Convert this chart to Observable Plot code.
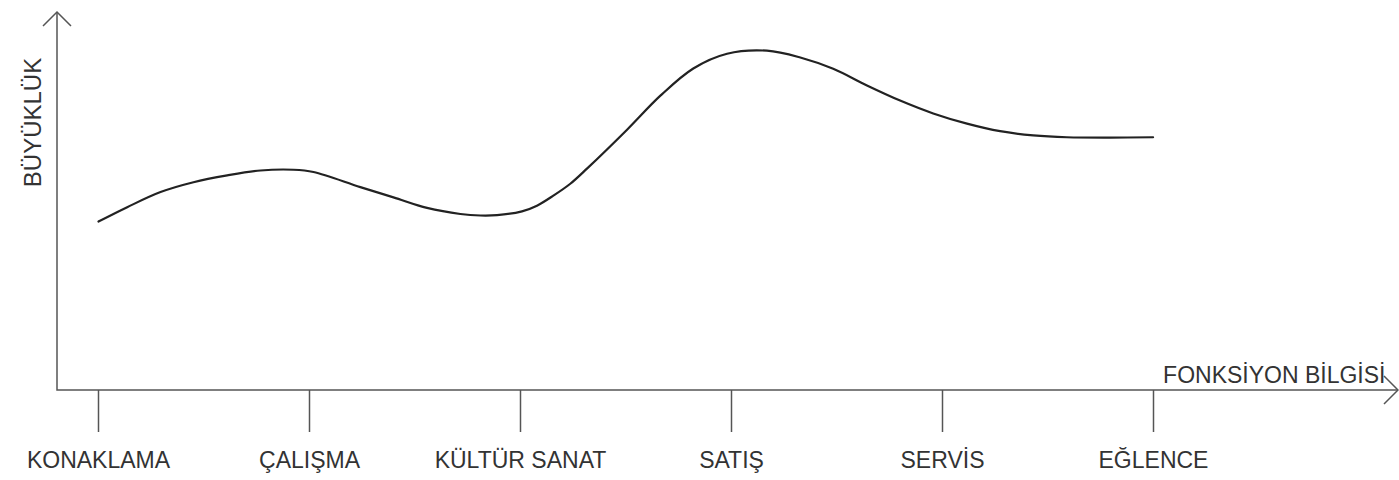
<!DOCTYPE html>
<html>
<head>
<meta charset="utf-8">
<script src="https://cdn.jsdelivr.net/npm/d3@7"></script>
<script src="https://cdn.jsdelivr.net/npm/@observablehq/plot@0.6"></script>
<style>
  html, body { margin: 0; padding: 0; background: #fff; }
</style>
</head>
<body>
<div id="chart"></div>
<script>
// Categories along the "FONKSİYON BİLGİSİ" axis
const categories = ["KONAKLAMA", "ÇALIŞMA", "KÜLTÜR SANAT", "SATIŞ", "SERVİS", "EĞLENCE"];
const tickPositions = [0, 1, 2, 3, 4, 5];

// Curve samples (x in category units, y = relative magnitude)
const curveX = [0, 0.136, 0.294, 0.450, 0.610, 0.768, 0.924, 1.019, 1.241, 1.398, 1.557, 1.715, 1.810,
                1.889, 2.007, 2.078, 2.157, 2.236, 2.315, 2.505, 2.663, 2.819, 2.979, 3.168,
                3.326, 3.482, 3.642, 3.799, 3.956, 4.116, 4.273, 4.430, 4.589, 4.795, 4.998];
const curveY = [44.7, 48.5, 52.5, 55.1, 56.9, 58.2, 58.4, 57.8, 53.8, 51.1, 48.3, 46.7, 46.3,
                46.4, 47.4, 48.9, 51.6, 54.7, 58.7, 69.0, 78.0, 85.2, 89.1, 89.9,
                88.1, 85.1, 80.7, 76.7, 73.3, 70.6, 68.6, 67.5, 67.0, 66.9, 67.0];

const yLabel = "BÜYÜKLÜK";
const xLabel = "FONKSİYON BİLGİSİ";

const points = curveX.map((x, i) => ({x, y: curveY[i]}));

// Axis lines with open arrowheads, drawn at the frame edges
function axesWithArrows(...args) {
  const dims = args.find(a => a && typeof a.marginLeft === "number" && typeof a.width === "number");
  const {width, height, marginLeft, marginRight, marginTop, marginBottom} = dims;
  const x0 = marginLeft, y0 = height - marginBottom, x1 = width - marginRight, y1 = marginTop;
  const a = 14;
  const g = d3.create("svg:g")
    .attr("fill", "none")
    .attr("stroke", "#555")
    .attr("stroke-width", 1.5);
  g.append("path").attr("d", `M${x0},${y1}L${x0},${y0}L${x1},${y0}`);
  g.append("path").attr("d", `M${x0 - a},${y1 + a}L${x0},${y1}L${x0 + a},${y1 + a}`);
  g.append("path").attr("d", `M${x1 - a},${y0 - a}L${x1},${y0}L${x1 - a},${y0 + a}`);
  return g.node();
}

const chart = Plot.plot({
  width: 1399,
  height: 480,
  marginLeft: 57,
  marginRight: 1,
  marginTop: 12,
  marginBottom: 90,
  x: {domain: [0, 5], range: [98, 1153], axis: null, label: null},
  y: {domain: [0, 100], axis: null, label: null},
  style: {fontFamily: "'Liberation Sans', Arial, sans-serif", background: "#fff", color: "#333", overflow: "visible"},
  marks: [
    axesWithArrows,
    Plot.axisX(tickPositions, {
      anchor: "bottom", tickSize: 42, tickPadding: 19, label: null,
      tickFormat: i => categories[i], fontSize: 23,
      stroke: "#555", strokeWidth: 1.5, fill: "#333"
    }),
    Plot.line(points, {x: "x", y: "y", curve: "catmull-rom", stroke: "#222", strokeWidth: 2.2}),
    Plot.text([yLabel], {frameAnchor: "top-left", text: d => d, rotate: -90, textAnchor: "middle", lineAnchor: "middle",
                         dx: -24, dy: 110, fontSize: 24, fill: "#333"}),
    Plot.text([xLabel], {frameAnchor: "bottom-right", text: d => d, textAnchor: "end", lineAnchor: "middle",
                         dx: -13, dy: -15, fontSize: 23, fill: "#333"})
  ]
});

document.getElementById("chart").appendChild(chart);
</script>
</body>
</html>
